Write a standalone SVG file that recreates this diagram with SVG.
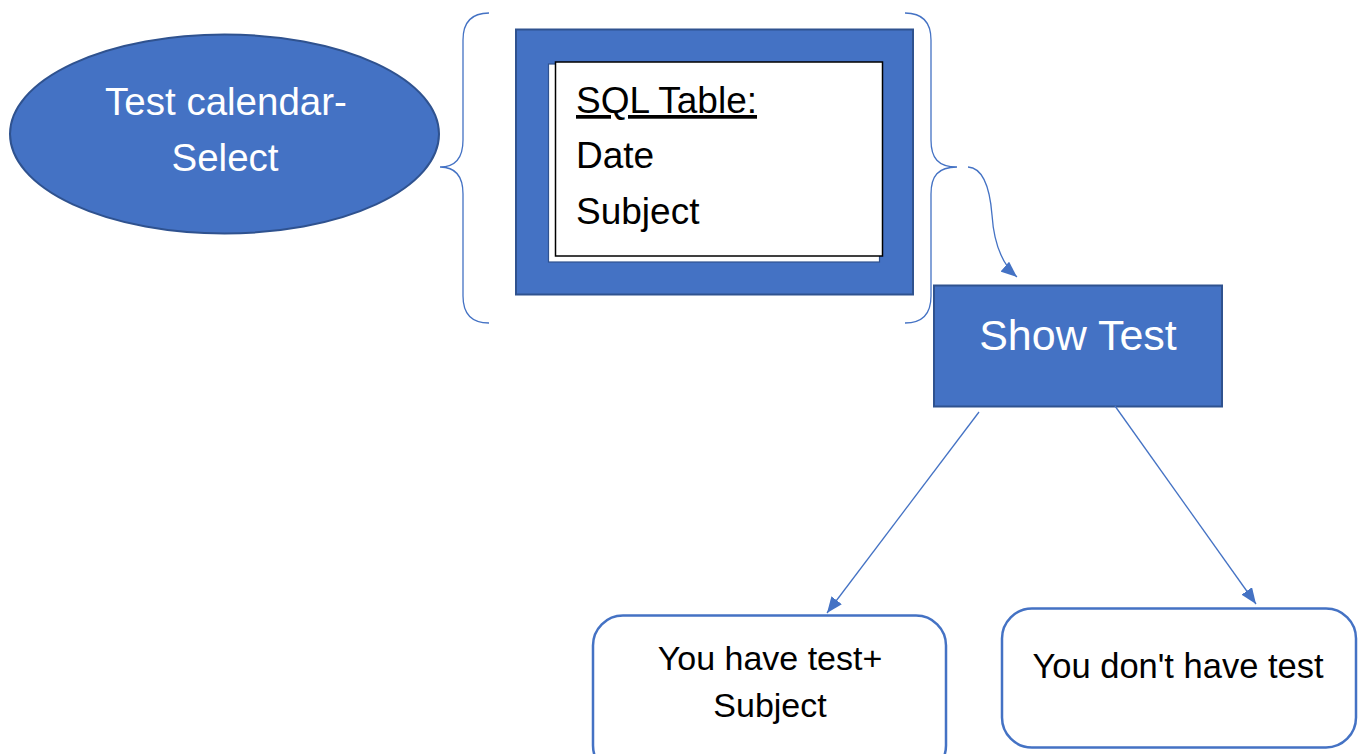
<svg xmlns="http://www.w3.org/2000/svg" width="1362" height="754" viewBox="0 0 1362 754">
  <defs>
    <marker id="arrow" viewBox="0 0 16 13" refX="16" refY="6.5" markerWidth="16" markerHeight="13" markerUnits="userSpaceOnUse" orient="auto">
      <path d="M0,0 L16,6.5 L0,13 z" fill="#4472C4"/>
    </marker>
    <style>
      .shape { fill: #4472C4; stroke: #2F528F; stroke-width: 2; }
      .outline { fill: #FFFFFF; stroke: #4472C4; stroke-width: 2.5; }
      .brace { fill: none; stroke: #4472C4; stroke-width: 1.3; }
      .link { fill: none; stroke: #4472C4; stroke-width: 1.3; }
      .label { font-family: "Liberation Sans", Arial, sans-serif; }
      .light { fill: #FFFFFF; }
      .dark { fill: #000000; }
    </style>
  </defs>
  <rect width="1362" height="754" fill="#FFFFFF"/>

  <!-- start: ellipse -->
  <g id="test-calendar">
    <ellipse class="shape" cx="224.5" cy="134" rx="214.5" ry="99.5"/>
    <text class="label light" x="226" y="115" font-size="38.5" text-anchor="middle">Test calendar-</text>
    <text class="label light" x="225" y="171" font-size="38.5" text-anchor="middle">Select</text>
  </g>

  <!-- braces around the table -->
  <g id="braces">
    <path class="brace" d="M489,13 C470,13 463,24 463,40 L463,140 C463,158 456,167 440,167 C456,167 463,176 463,194 L463,296 C463,312 470,323 489,323"/>
    <path class="brace" d="M905,13 C924,13 931,24 931,40 L931,140 C931,158 938,167 957,167 C938,167 931,176 931,194 L931,296 C931,312 924,323 905,323"/>
  </g>

  <!-- SQL table block -->
  <g id="sql-table">
    <rect class="shape" x="516" y="29.5" width="397" height="265"/>
    <rect x="548.5" y="64" width="331" height="198" fill="#FFFFFF" stroke="#2F528F" stroke-width="1.2"/>
    <rect x="555.5" y="62" width="327" height="194" fill="#FFFFFF" stroke="#000000" stroke-width="1.5"/>
    <text class="label dark" x="576" y="113" font-size="37" text-decoration="underline">SQL Table:</text>
    <text class="label dark" x="576" y="168" font-size="37">Date</text>
    <text class="label dark" x="576" y="224" font-size="37">Subject</text>
  </g>

  <!-- process: show test -->
  <g id="show-test">
    <rect class="shape" x="934" y="285.5" width="288" height="121"/>
    <text class="label light" x="1078" y="350" font-size="43" text-anchor="middle">Show Test</text>
  </g>

  <!-- outcomes -->
  <g id="have-test">
    <rect class="outline" x="593" y="615.5" width="353" height="160" rx="30" ry="30"/>
    <text class="label dark" x="770" y="670" font-size="34" text-anchor="middle">You have test+</text>
    <text class="label dark" x="770" y="717" font-size="34" text-anchor="middle">Subject</text>
  </g>

  <g id="no-test">
    <rect class="outline" x="1002" y="608.5" width="354" height="139" rx="30" ry="30"/>
    <text class="label dark" x="1178" y="678" font-size="34.5" text-anchor="middle">You don't have test</text>
  </g>

  <!-- connectors -->
  <g id="connectors">
    <path class="link" d="M968,167 C984,168 990,190 992,215 C994,245 1003,265 1017,277" marker-end="url(#arrow)"/>
    <path class="link" d="M979,412 L827,613" marker-end="url(#arrow)"/>
    <path class="link" d="M1115,406 L1256,604" marker-end="url(#arrow)"/>
  </g>
</svg>
